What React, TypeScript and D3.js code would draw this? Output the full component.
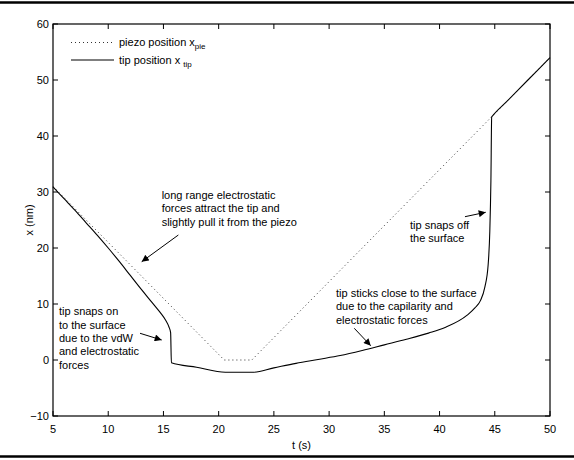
import React from 'react';
import * as d3 from 'd3';

// piezo position (straight ramps)
const piezoT = [5, 20.5, 23, 50];
const piezoX = [31, 0, 0, 54];

// tip position
const tipT = [5, 6, 7, 8, 9, 10, 11, 12, 13, 14, 14.7, 15.2, 15.5, 15.65, 15.72, 18, 20.6, 23, 25, 27, 29, 31, 33, 35, 37, 39, 40.5, 42.5, 43.2, 43.7, 44.1, 44.4, 44.55, 44.65, 44.72, 44.8, 46, 48, 50];
const tipX = [30.9, 28.8, 26.7, 24.5, 22.3, 20.0, 17.6, 15.1, 12.6, 10.2, 8.5, 7.1, 5.9, 4.9, -0.5, -1.3, -2.2, -2.2, -1.4, -0.6, 0.1, 0.8, 1.7, 2.7, 3.7, 4.8, 5.8, 8.0, 9.3, 10.6, 13, 17, 23, 32, 43.4, 43.6, 46, 50, 54];

const xTicks = [5, 10, 15, 20, 25, 30, 35, 40, 45, 50];
const yTicks = [-10, 0, 10, 20, 30, 40, 50, 60];

// annotations: text anchor (data units) and arrow from/to (data units)
const notes = [
  { t: 14.84, x: 28.75, lines: ['long range electrostatic', 'forces attract the tip and', 'slightly pull it from the piezo'] },
  { t: 5.54, x: 7.95, lines: ['tip snaps on', 'to the surface', 'due to the vdW', 'and electrostatic', 'forces'] },
  { t: 37.32, x: 23.39, lines: ['tip snaps off', 'the surface'] },
  { t: 30.62, x: 11.25, lines: ['tip sticks close to the surface', 'due to the capilarity and', 'electrostatic forces'] },
];
const arrows = [
  { t0: 16.35, x0: 22.32, t1: 13.03, x1: 17.55 },
  { t0: 12.88, x0: 4.77, t1: 14.84, x1: 3.57 },
  { t0: 42.3, x0: 25.59, t1: 44.18, x1: 26.38 },
  { t0: 32.28, x0: 5.66, t1: 33.77, x1: 2.55 },
];

const W = 574, H = 460;
const left = 53, right = 550, top = 24, bottom = 416;
const font = 'Arial, "Liberation Sans", Helvetica, sans-serif';

export default function App() {
  const x = d3.scaleLinear().domain([5, 50]).range([left, right]);
  const y = d3.scaleLinear().domain([-10, 60]).range([bottom, top]);

  const piezoPath = d3.line<number>()
    .x((d, i) => x(piezoT[i]))
    .y((d) => y(d))(piezoX);
  const tipPath = d3.line<number>()
    .x((d, i) => x(tipT[i]))
    .y((d) => y(d))
    .curve(d3.curveMonotoneX)(tipX);

  const tk = 5;

  return (
    <svg width={W} height={H} style={{ position: 'absolute', left: 0, top: 0, background: '#fff' }} fontFamily={font}>
      <defs>
        <marker id="ah" viewBox="0 0 10 10" refX="10" refY="5" markerWidth="8" markerHeight="7" markerUnits="userSpaceOnUse" orient="auto">
          <path d="M0,0 L10,5 L0,10 z" fill="#000" />
        </marker>
      </defs>
      <line x1={0} x2={W} y1={2.5} y2={2.5} stroke="#000" strokeWidth={2.5} />
      <line x1={0} x2={W} y1={456.5} y2={456.5} stroke="#000" strokeWidth={2.5} />

      {/* ticks */}
      {xTicks.map((t) => (
        <g key={'x' + t}>
          <line x1={x(t)} x2={x(t)} y1={bottom} y2={bottom - tk} stroke="#000" />
          <line x1={x(t)} x2={x(t)} y1={top} y2={top + tk} stroke="#000" />
          <text x={x(t)} y={bottom + 17} fontSize={11} textAnchor="middle">{t}</text>
        </g>
      ))}
      {yTicks.map((v) => (
        <g key={'y' + v}>
          <line x1={left} x2={left + tk} y1={y(v)} y2={y(v)} stroke="#000" />
          <line x1={right} x2={right - tk} y1={y(v)} y2={y(v)} stroke="#000" />
          <text x={left - 4} y={y(v) + 4} fontSize={11} textAnchor="end">{v < 0 ? '\u2212' + Math.abs(v) : v}</text>
        </g>
      ))}
      <rect x={left} y={top} width={right - left} height={bottom - top} fill="none" stroke="#000" strokeWidth={1.2} />

      <text x={(left + right) / 2} y={449} fontSize={11} textAnchor="middle">t (s)</text>
      <text transform={`translate(33,${(top + bottom) / 2}) rotate(-90)`} fontSize={11} textAnchor="middle">x (nm)</text>

      {/* series */}
      <path d={piezoPath || ''} fill="none" stroke="#333" strokeWidth={1} strokeDasharray="1,3" />
      <path d={tipPath || ''} fill="none" stroke="#000" strokeWidth={1.1} />

      {/* legend */}
      <line x1={71} x2={112} y1={42.5} y2={42.5} stroke="#333" strokeDasharray="1,3" />
      <text x={119} y={46} fontSize={11}>piezo position x<tspan fontSize={8} dy={3}>pie</tspan></text>
      <line x1={71} x2={114} y1={60} y2={60} stroke="#000" strokeWidth={1.1} />
      <text x={119} y={63.5} fontSize={11}>tip position  x<tspan fontSize={8} dx={3} dy={3}>tip</tspan></text>

      {/* annotations */}
      {notes.map((n, i) => (
        <text key={'n' + i} x={x(n.t)} y={y(n.x)} fontSize={11}>
          {n.lines.map((l, j) => (
            <tspan key={j} x={x(n.t)} dy={j === 0 ? 0 : 13.3}>{l}</tspan>
          ))}
        </text>
      ))}
      {arrows.map((a, i) => (
        <line key={'a' + i} x1={x(a.t0)} y1={y(a.x0)} x2={x(a.t1)} y2={y(a.x1)} stroke="#000" strokeWidth={1} markerEnd="url(#ah)" />
      ))}
    </svg>
  );
}
